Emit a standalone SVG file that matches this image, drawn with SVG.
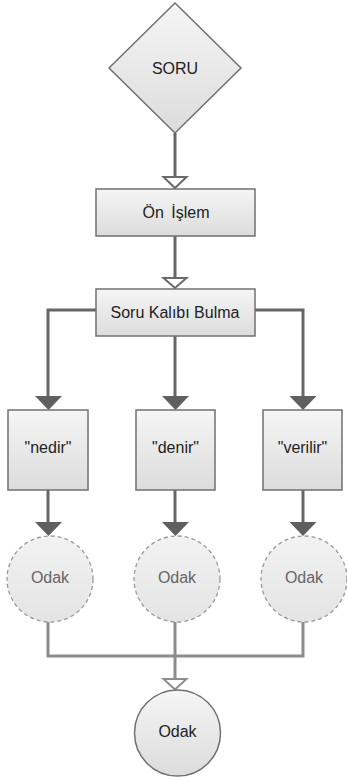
<svg xmlns="http://www.w3.org/2000/svg" width="347" height="781" viewBox="0 0 347 781">
<defs>
<linearGradient id="g" x1="0" y1="0" x2="0" y2="1">
<stop offset="0" stop-color="#f5f5f5"/>
<stop offset="1" stop-color="#dcdcdc"/>
</linearGradient>
<linearGradient id="gl" x1="0" y1="0" x2="0" y2="1">
<stop offset="0" stop-color="#f2f2f2"/>
<stop offset="1" stop-color="#e4e4e4"/>
</linearGradient>
</defs>
<style>
.n{fill:url(#g);stroke:#707070;stroke-width:1.5}
.d{fill:url(#gl);stroke:#9a9a9a;stroke-width:1.3;stroke-dasharray:4 3}
.t{font-family:"Liberation Sans",Arial,sans-serif;font-size:16px;fill:#222;text-anchor:middle}
.tl{font-family:"Liberation Sans",Arial,sans-serif;font-size:16px;fill:#666;text-anchor:middle}
.c{fill:none;stroke:#666;stroke-width:3}
.cl{fill:none;stroke:#8c8c8c;stroke-width:3}
.oa{fill:#fff;stroke:#6a6a6a;stroke-width:2}
.oal{fill:#fff;stroke:#8c8c8c;stroke-width:2}
.fa{fill:#5f5f5f}
</style>
<g id="connectors">
<line class="c" x1="175" y1="133" x2="175" y2="177"/>
<polygon class="oa" points="163.5,177 186.5,177 175,188"/>
<line class="c" x1="175" y1="236" x2="175" y2="278"/>
<polygon class="oa" points="163.5,278 186.5,278 175,288"/>
<polyline class="c" points="96,310 48,310 48,398"/>
<polygon class="fa" points="35,396 62,396 48.5,410"/>
<line class="c" x1="175" y1="336" x2="175" y2="398"/>
<polygon class="fa" points="162,396 189,396 175.5,410"/>
<polyline class="c" points="255,310 303,310 303,398"/>
<polygon class="fa" points="289.5,396 316.5,396 303,410"/>
<line class="c" x1="48" y1="490" x2="48" y2="524"/>
<polygon class="fa" points="35,522 62,522 48.5,536"/>
<line class="c" x1="175" y1="490" x2="175" y2="524"/>
<polygon class="fa" points="162,522 189,522 175.5,536"/>
<line class="c" x1="303" y1="490" x2="303" y2="524"/>
<polygon class="fa" points="289.5,522 316.5,522 303,536"/>
<polyline class="cl" points="48,622 48,656 303,656 303,622"/>
<line class="cl" x1="175" y1="622" x2="175" y2="679"/>
<polygon class="oal" points="163.5,679 186.5,679 175,689.5"/>
</g>
<g id="soru">
<polygon class="n" points="175,3 241,68 175,133 109,68"/>
<text class="t" x="175" y="74">SORU</text>
</g>
<g id="on-islem">
<rect class="n" x="96" y="189" width="159" height="47"/>
<text class="t" x="176" y="218" word-spacing="3">Ön İşlem</text>
</g>
<g id="soru-kalibi">
<rect class="n" x="96" y="289" width="159" height="47"/>
<text class="t" x="175" y="318">Soru Kalıbı Bulma</text>
</g>
<g id="nedir">
<rect class="n" x="8" y="410" width="80" height="80"/>
<text class="t" x="48" y="453">"nedir"</text>
</g>
<g id="denir">
<rect class="n" x="136" y="410" width="79" height="80"/>
<text class="t" x="175.5" y="453">"denir"</text>
</g>
<g id="verilir">
<rect class="n" x="263" y="410" width="79" height="80"/>
<text class="t" x="302.5" y="453">"verilir"</text>
</g>
<g id="odak1">
<circle class="d" cx="50" cy="579" r="43"/>
<text class="tl" x="50" y="583">Odak</text>
</g>
<g id="odak2">
<circle class="d" cx="177" cy="579" r="43"/>
<text class="tl" x="177" y="583">Odak</text>
</g>
<g id="odak3">
<circle class="d" cx="304" cy="579" r="43"/>
<text class="tl" x="304" y="583">Odak</text>
</g>
<g id="odak-final">
<circle class="n" cx="177.5" cy="733" r="43"/>
<text class="t" x="177.5" y="737">Odak</text>
</g>
</svg>
